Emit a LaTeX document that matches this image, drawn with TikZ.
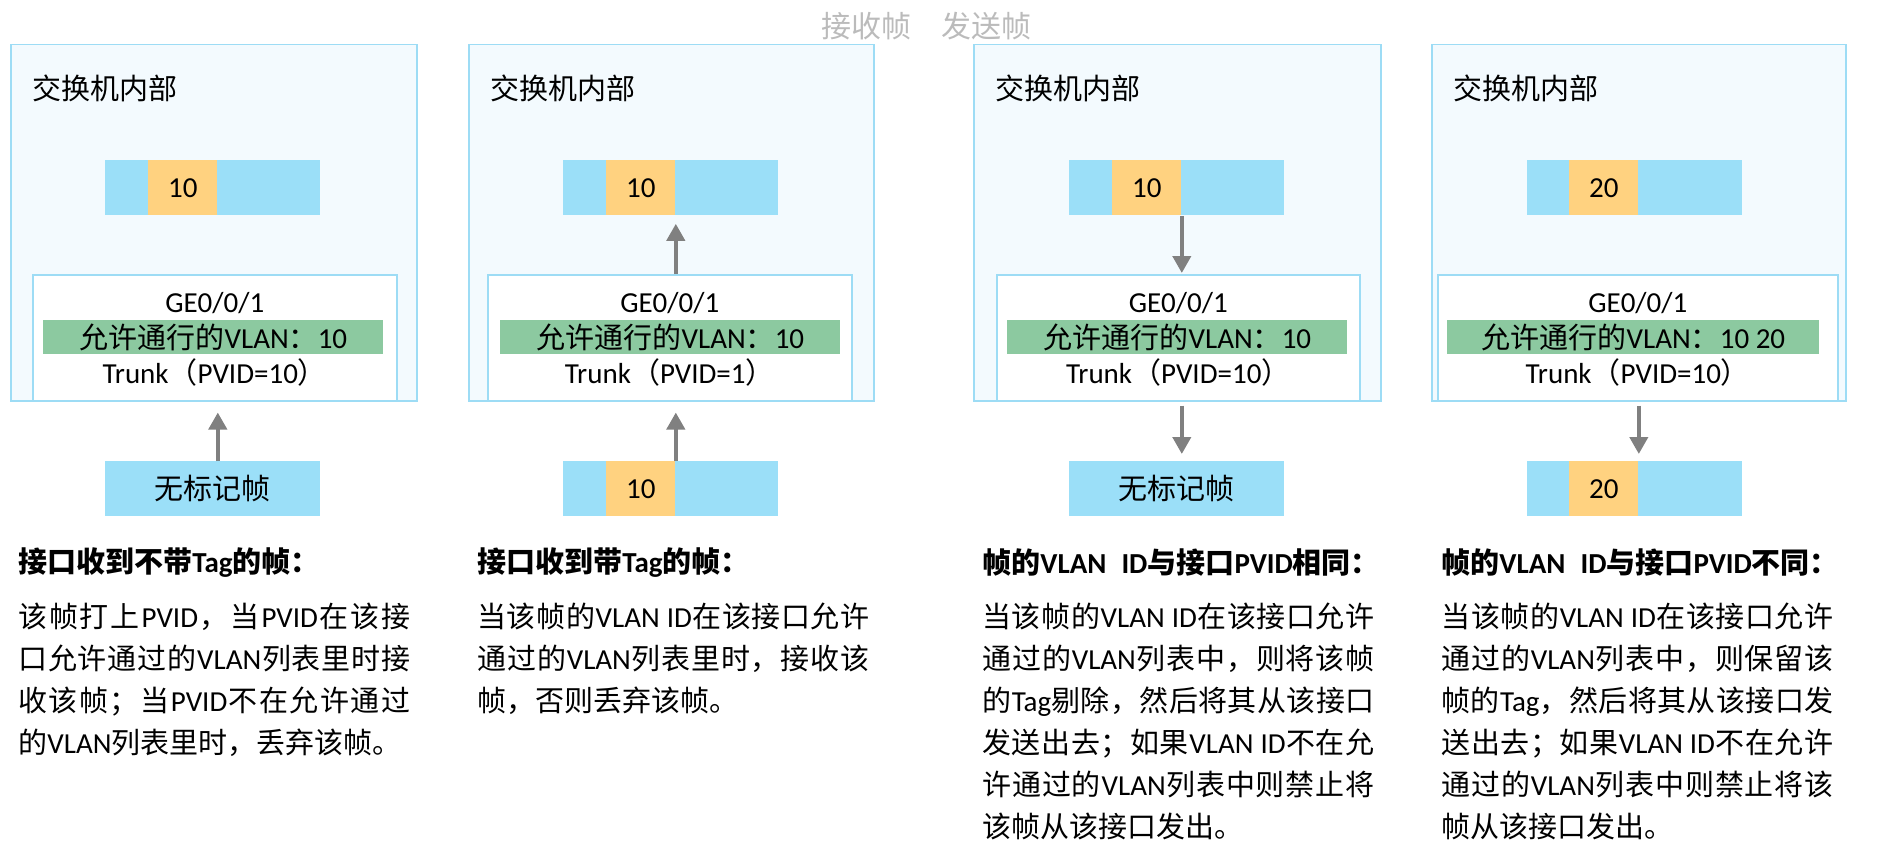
\documentclass[tikz,border=0pt]{standalone}
\usepackage{fontspec}
\setmainfont{Carlito}
\newfontfamily\cjkfont{Noto Sans CJK SC}
\usetikzlibrary{arrows.meta}

\XeTeXinterchartokenstate=1
\newXeTeXintercharclass\cjkcls
\newcount\cjkc
\cjkc="3000
\loop\ifnum\cjkc<"A000 \XeTeXcharclass\cjkc=\cjkcls \advance\cjkc by 1 \repeat
\cjkc="FF00
\loop\ifnum\cjkc<"FFF0 \XeTeXcharclass\cjkc=\cjkcls \advance\cjkc by 1 \repeat
\XeTeXinterchartoks 0 \cjkcls = {\hskip0pt plus 0.2em\relax\cjkfont}
\XeTeXinterchartoks 4095 \cjkcls = {\cjkfont}
\XeTeXinterchartoks \cjkcls 0 = {\hskip0pt plus 0.2em\relax\rmfamily}
\XeTeXinterchartoks \cjkcls \cjkcls = {\hskip0pt plus 0.2em\relax}

\definecolor{boxline}{HTML}{9DDCF5}
\definecolor{boxfill}{HTML}{F3FAFE}
\definecolor{framebl}{HTML}{9BDFF8}
\definecolor{tagor}{HTML}{FFD280}
\definecolor{vlangr}{HTML}{8CC9A0}
\definecolor{arrowgray}{HTML}{808080}
\definecolor{legendgray}{HTML}{BBBBBB}

\newcommand\boxfnt{\fontsize{14.5pt}{16pt}\selectfont}
\newcommand\titlefnt{\fontsize{14.5pt}{17pt}\selectfont}
\newcommand\headfnt{\fontsize{14.5pt}{17pt}\selectfont\bfseries}
\newcommand\bodyfnt{\fontsize{14.5pt}{21pt}\selectfont\tolerance=10000}
\newcommand\legendfnt{\fontsize{15pt}{17pt}\selectfont}

\tikzset{
  switchbox/.style={draw=boxline, line width=0.75pt, fill=boxfill, anchor=north west, minimum height=178pt},
  portbox/.style={draw=boxline, line width=0.75pt, fill=white, anchor=north west, minimum height=63pt},
  vlanbar/.style={fill=vlangr, anchor=north west, minimum height=17pt, font=\boxfnt},
  vframe/.style={fill=framebl, anchor=north west, minimum width=107.5pt, minimum height=27.5pt},
  vtag/.style={fill=tagor, anchor=north west, minimum width=34.5pt, minimum height=27.5pt, font=\boxfnt},
  flow/.style={draw=arrowgray, line width=2pt, -{Triangle[width=9pt,length=8.5pt]}},
  heading/.style={anchor=west, font=\headfnt},
  body/.style={anchor=north west, text width=196pt, align=justify, font=\bodyfnt}
}

\begin{document}
\begin{tikzpicture}[x=0.5pt, y=-0.5pt, every node/.style={inner sep=0pt}]
\useasboundingbox (0,0) rectangle (1877,861);

\node[anchor=west, font=\legendfnt, text=legendgray] (rx) at (821,26) {接收帧};
\node[anchor=west, font=\legendfnt, text=legendgray] (tx) at (941,26) {发送帧};

\node[switchbox, minimum width=203pt] (sw1) at (10,44) {};
\node[anchor=west, font=\titlefnt] (in1) at (32,88) {交换机内部};
\node[vframe] (fa1) at (105,160) {};
\node[vtag] (ta1) at (148,160) {10};
\node[portbox, minimum width=182pt] (po1) at (32,274) {};
\node[font=\boxfnt] (ge1) at ([yshift=-14.5pt]po1.north) {GE0/0/1};
\node[vlanbar, minimum width=170pt] (vl1) at (43,320) {允许通行的VLAN：10};
\node[font=\boxfnt] (tr1) at ([yshift=-49pt]po1.north) {Trunk（PVID=10）};
\node[vframe, font=\titlefnt] (fb1) at (105,461) {无标记帧};
\draw[flow, shorten >=5.5pt] (fb1.north -| ta1.east) -- (sw1.south -| ta1.east);

\node[switchbox, minimum width=202.5pt] (sw2) at (468,44) {};
\node[anchor=west, font=\titlefnt] (in2) at (490,88) {交换机内部};
\node[vframe] (fa2) at (563,160) {};
\node[vtag] (ta2) at (606,160) {10};
\node[portbox, minimum width=182pt] (po2) at (487,274) {};
\node[font=\boxfnt] (ge2) at ([yshift=-14.5pt]po2.north) {GE0/0/1};
\node[vlanbar, minimum width=170pt] (vl2) at (500,320) {允许通行的VLAN：10};
\node[font=\boxfnt] (tr2) at ([yshift=-49pt]po2.north) {Trunk（PVID=1）};
\node[vframe] (fb2) at (563,461) {};
\node[vtag] (tb2) at (606,461) {10};
\draw[flow, shorten >=4pt] (po2.north -| ta2.east) -- (ta2.south east);
\draw[flow, shorten >=5.5pt] (fb2.north -| tb2.east) -- (sw2.south -| tb2.east);

\node[switchbox, minimum width=203.5pt] (sw3) at (973,44) {};
\node[anchor=west, font=\titlefnt] (in3) at (995,88) {交换机内部};
\node[vframe] (fa3) at (1069,160) {};
\node[vtag] (ta3) at (1112,160) {10};
\node[portbox, minimum width=181.5pt] (po3) at (996,274) {};
\node[font=\boxfnt] (ge3) at ([yshift=-14.5pt]po3.north) {GE0/0/1};
\node[vlanbar, minimum width=170pt] (vl3) at (1007,320) {允许通行的VLAN：10};
\node[font=\boxfnt] (tr3) at ([yshift=-49pt]po3.north) {Trunk（PVID=10）};
\node[vframe, font=\titlefnt] (fb3) at (1069,461) {无标记帧};
\draw[flow, shorten >=0.5pt] (ta3.south east) -- (po3.north -| ta3.east);
\draw[flow, shorten <=2pt, shorten >=3.5pt] (sw3.south -| ta3.east) -- (fb3.north -| ta3.east);

\node[switchbox, minimum width=207pt] (sw4) at (1431,44) {};
\node[anchor=west, font=\titlefnt] (in4) at (1453,88) {交换机内部};
\node[vframe] (fa4) at (1527,160) {};
\node[vtag] (ta4) at (1569,160) {20};
\node[portbox, minimum width=200pt] (po4) at (1437,274) {};
\node[font=\boxfnt] (ge4) at ([yshift=-14.5pt]po4.north) {GE0/0/1};
\node[vlanbar, minimum width=186pt] (vl4) at (1447,320) {允许通行的VLAN：10 20};
\node[font=\boxfnt] (tr4) at ([yshift=-49pt]po4.north) {Trunk（PVID=10）};
\node[vframe] (fb4) at (1527,461) {};
\node[vtag] (tb4) at (1569,461) {20};
\draw[flow, shorten <=2pt, shorten >=3.5pt] (sw4.south -| ta4.east) -- (fb4.north -| ta4.east);

\node[heading] (h1) at (18,563) {接口收到不带Tag的帧：};
\node[body] (b1) at (18,603) {\noindent 该帧打上PVID，当PVID在该接\linebreak 口允许通过的VLAN列表里时接\linebreak 收该帧；当PVID不在允许通过\linebreak 的VLAN列表里时，丢弃该帧。};
\node[heading] (h2) at (477,563) {接口收到带Tag的帧：};
\node[body] (b2) at (477,603) {\noindent 当该帧的VLAN ID在该接口允许\linebreak 通过的VLAN列表里时，接收该\linebreak 帧，否则丢弃该帧。};
\node[heading] (h3) at (982,563) {帧的VLAN\hspace{7.5pt}ID与接口PVID相同：};
\node[body] (b3) at (982,603) {\noindent 当该帧的VLAN ID在该接口允许\linebreak 通过的VLAN列表中，则将该帧\linebreak 的Tag剔除，然后将其从该接口\linebreak 发送出去；如果VLAN ID不在允\linebreak 许通过的VLAN列表中则禁止将\linebreak 该帧从该接口发出。};
\node[heading] (h4) at (1441,563) {帧的VLAN\hspace{7.5pt}ID与接口PVID不同：};
\node[body] (b4) at (1441,603) {\noindent 当该帧的VLAN ID在该接口允许\linebreak 通过的VLAN列表中，则保留该\linebreak 帧的Tag，然后将其从该接口发\linebreak 送出去；如果VLAN ID不在允许\linebreak 通过的VLAN列表中则禁止将该\linebreak 帧从该接口发出。};
\end{tikzpicture}
\end{document}
